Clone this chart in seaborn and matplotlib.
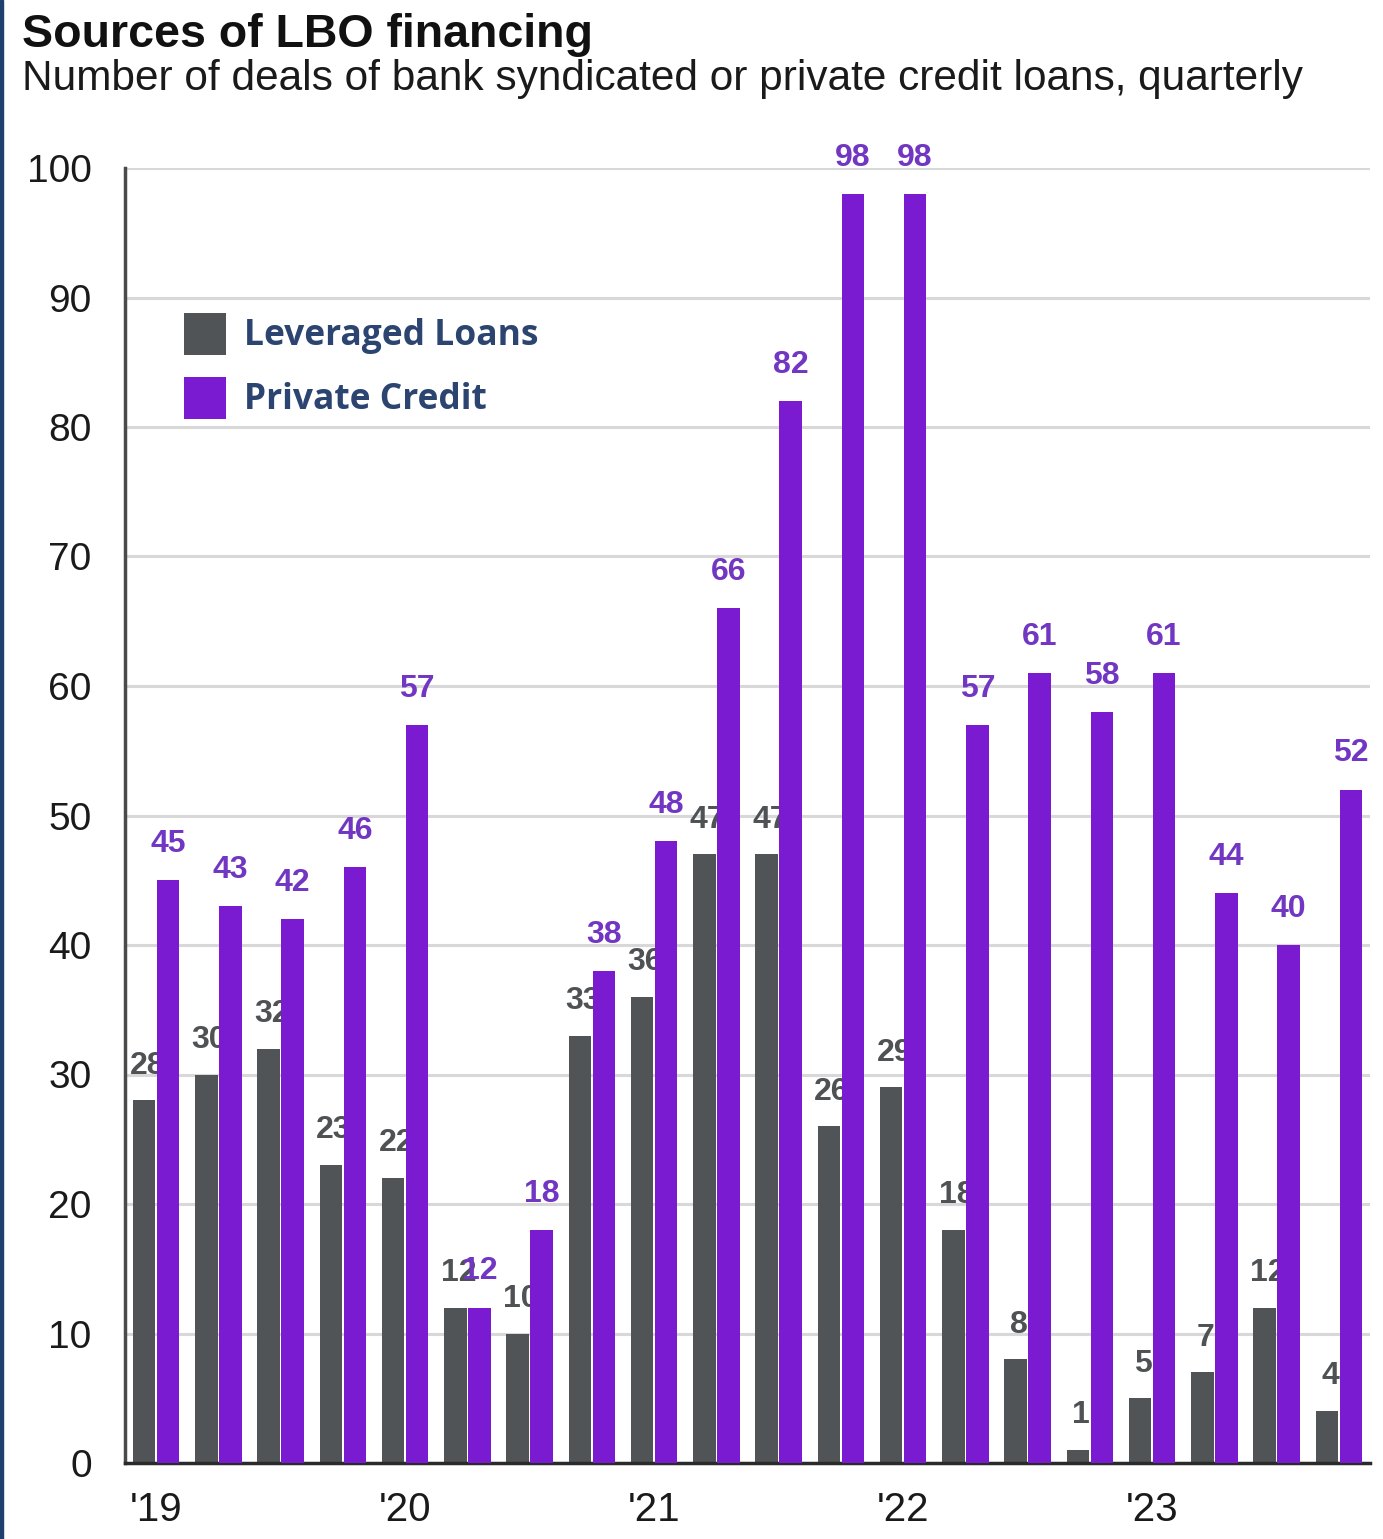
import matplotlib
matplotlib.use("Agg")
import matplotlib.pyplot as plt
import seaborn as sns
import pandas as pd
from matplotlib.patches import Rectangle

quarters = ["Q1 2019", "Q2 2019", "Q3 2019", "Q4 2019",
            "Q1 2020", "Q2 2020", "Q3 2020", "Q4 2020",
            "Q1 2021", "Q2 2021", "Q3 2021", "Q4 2021",
            "Q1 2022", "Q2 2022", "Q3 2022", "Q4 2022",
            "Q1 2023", "Q2 2023", "Q3 2023", "Q4 2023"]
leveraged_loans = [28, 30, 32, 23, 22, 12, 10, 33, 36, 47, 47, 26, 29, 18, 8, 1, 5, 7, 12, 4]
private_credit = [45, 43, 42, 46, 57, 12, 18, 38, 48, 66, 82, 98, 98, 57, 61, 58, 61, 44, 40, 52]
series_names = ["Leveraged Loans", "Private Credit"]
year_labels = ["'19", "'20", "'21", "'22", "'23"]
y_ticks = [0, 10, 20, 30, 40, 50, 60, 70, 80, 90, 100]

title = "Sources of LBO financing"
subtitle = "Number of deals of bank syndicated or private credit loans, quarterly"

GRAY = "#505456"
PURPLE = "#7A1BD2"
GRAY_TXT = "#4F5254"
PURPLE_TXT = "#7136C2"
NAVY = "#2B4470"

df = pd.DataFrame({
    "quarter": quarters * 2,
    "series": [series_names[0]] * len(quarters) + [series_names[1]] * len(quarters),
    "value": leveraged_loans + private_credit,
})

sns.set_theme(style="white")
plt.rcParams["font.family"] = ["Liberation Sans", "DejaVu Sans"]

fig = plt.figure(figsize=(13.83, 15.39), dpi=100)
ax = fig.add_axes([125 / 1383, 1 - 1463 / 1539, 1245 / 1383, (1463 - 168) / 1539])

sns.barplot(data=df, x="quarter", y="value", hue="series", order=quarters,
            hue_order=series_names, palette=[GRAY, PURPLE], width=0.77, gap=0.06,
            saturation=1, linewidth=0, ax=ax, zorder=2)

ax.set_xlim(-0.5, len(quarters) - 0.5)
ax.set_ylim(0, 100)
ax.set_yticks(y_ticks)
ax.set_yticklabels([str(t) for t in y_ticks], fontsize=28, color="#1a1a1a")
ax.set_xticks(range(0, len(quarters), 4))
ax.set_xticklabels(year_labels, fontsize=29, color="#1a1a1a")
ax.tick_params(axis="y", length=0, pad=24)
ax.tick_params(axis="x", length=0, pad=20)
ax.set_xlabel("")
ax.set_ylabel("")
ax.yaxis.grid(True, color="#D8D8D8", linewidth=2.2, zorder=0)
ax.set_axisbelow(True)
for s in ["top", "right"]:
    ax.spines[s].set_visible(False)
ax.spines["left"].set_color("#4a4a4a")
ax.spines["left"].set_linewidth(2.5)
ax.spines["bottom"].set_color("#2a2a2a")
ax.spines["bottom"].set_linewidth(2.5)

gray_bars = ax.containers[0]
purple_bars = ax.containers[1]
for p in gray_bars:
    p.set_zorder(2)
for p in purple_bars:
    p.set_zorder(4)

for p, v in zip(gray_bars, leveraged_loans):
    ax.annotate(str(v), (p.get_x() + p.get_width() / 2 + 0.05, p.get_height()),
                xytext=(0, 25), textcoords="offset points", ha="center", va="center",
                fontsize=23, fontweight="bold", color=GRAY_TXT, zorder=3)
for p, v in zip(purple_bars, private_credit):
    ax.annotate(str(v), (p.get_x() + p.get_width() / 2, p.get_height()),
                xytext=(0, 26), textcoords="offset points", ha="center", va="center",
                fontsize=23, fontweight="bold", color=PURPLE_TXT, zorder=5,
                annotation_clip=False)

leg = ax.legend(loc="upper left", bbox_to_anchor=(0.022, 0.913), frameon=False,
                prop={"family": ["Open Sans", "DejaVu Sans"], "weight": "bold", "size": 25.5},
                handlelength=1.18, handleheight=1.45, handletextpad=0.5, labelspacing=0.62)
for t in leg.get_texts():
    t.set_color(NAVY)

fig.text(22 / 1383, 1 - 47 / 1539, title, fontsize=33.5, fontweight="bold",
         color="#111111", va="baseline", ha="left")
fig.text(22 / 1383, 1 - 90 / 1539, subtitle, fontsize=30.5, color="#1a1a1a",
         va="baseline", ha="left")

fig.add_artist(Rectangle((0, 0), 3 / 1383, 1, transform=fig.transFigure,
                         color="#1F3F6E", zorder=10))

fig.savefig("out.png", dpi=100)
